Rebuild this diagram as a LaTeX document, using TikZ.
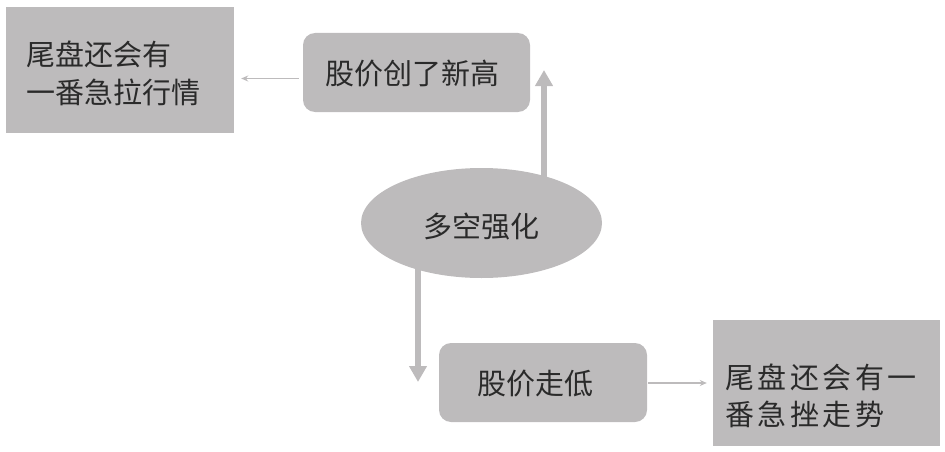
\documentclass[tikz,border=0pt]{standalone}
\usepackage{fontspec}
\setmainfont{Noto Sans CJK SC}
\newfontfamily\cjk{Noto Sans CJK SC}
\newfontfamily\cjkwide[LetterSpace=12]{Noto Sans CJK SC}
\usetikzlibrary{shapes.geometric,arrows.meta,backgrounds}
\definecolor{boxgray}{HTML}{BDBBBC}
\definecolor{arrgray}{HTML}{BDBBBC}
\definecolor{txt}{HTML}{2A2A2A}
\tikzset{
  sqbox/.style={fill=boxgray, draw=none, inner sep=0pt, text=txt, font=\cjk\fontsize{29pt}{38pt}\selectfont, align=left},
  rbox/.style={fill=boxgray, draw=none, rounded corners=12pt, inner sep=0pt, text=txt, font=\cjk\fontsize{29pt}{37pt}\selectfont},
  oval/.style={ellipse, fill=boxgray, draw=none, inner sep=0pt, text=txt, font=\cjk\fontsize{29pt}{37pt}\selectfont},
  lbl/.style={text=txt, font=\cjk\fontsize{29pt}{38pt}\selectfont, inner sep=0pt, align=left},
  thinarrow/.style={draw=arrgray, line width=1.3pt, -{Stealth[length=7pt,width=6pt]}},
  thickarrow/.style={draw=arrgray, line width=5.5pt, -{Triangle[length=16pt,width=17pt]}}
}
\begin{document}
\begin{tikzpicture}[x=1pt,y=-1pt]
\useasboundingbox (0,0) rectangle (945,452);
% free arrow ends
\coordinate (upEnd) at (544,70);
\coordinate (downEnd) at (418,382);
% ellipse
\node[oval, minimum width=241pt, minimum height=110pt, text depth=0pt] (E) at (481.5,223) {\raisebox{-5pt}{多空强化}};
\begin{scope}[on background layer]
\draw[thickarrow] (E.center -| upEnd) -- (upEnd);
\draw[thickarrow] (E.center -| downEnd) -- (downEnd);
\end{scope}
% boxes
\node[sqbox, minimum width=228pt, minimum height=126pt] (A) at (120,70) {};
\node[lbl, anchor=center] (At) at (114,73) {尾盘还会有\\一番急拉行情};
\node[rbox, minimum width=227pt, minimum height=79pt] (B) at (416.5,72.5) {};
\node[lbl] (Bt) at (412,74) {股价创了新高};
\node[rbox, minimum width=208pt, minimum height=79pt] (C) at (543,382.5) {};
\node[lbl] (Ct) at (535,384) {股价走低};
\node[sqbox, minimum width=227pt, minimum height=126pt] (D) at (826.5,383) {};
\node[lbl, font=\cjkwide\fontsize{29pt}{37pt}\selectfont, anchor=west] (Dt) at (725,396) {尾盘还会有一\\番急挫走势};
% thin arrows
\draw[thinarrow] ([shift={(-4pt,-6pt)}]B.west) -- ([shift={(7pt,-8.5pt)}]A.east);
\draw[thinarrow] ([shift={(1pt,-0.5pt)}]C.east) -- ([shift={(-6pt,0pt)}]D.west);
\end{tikzpicture}
\end{document}
